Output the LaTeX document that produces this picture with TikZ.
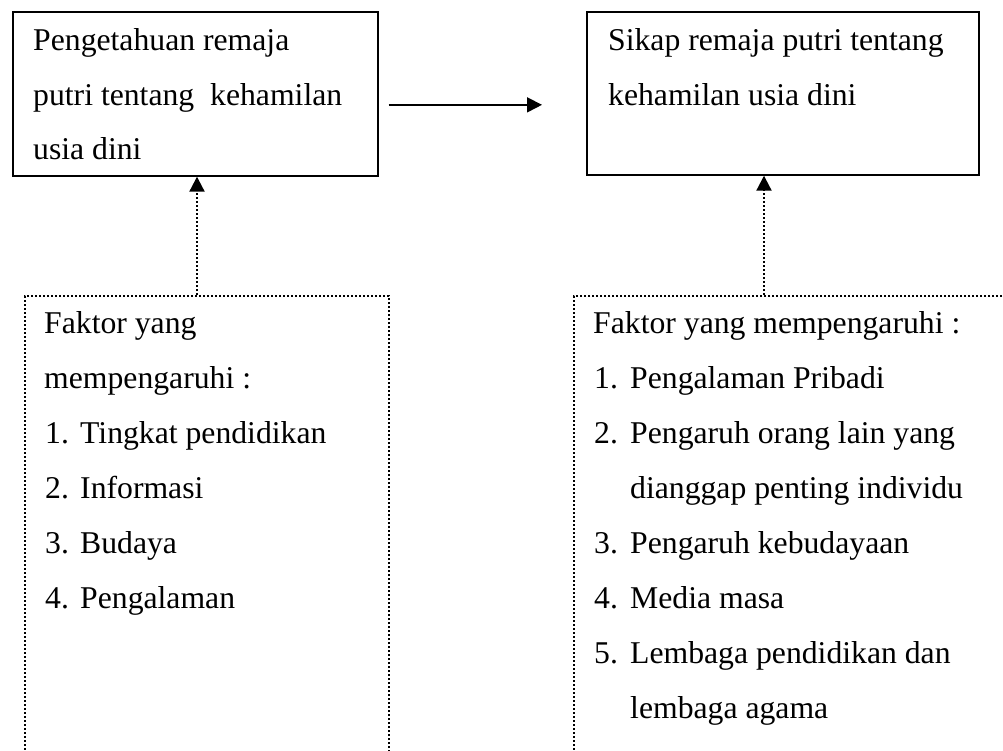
\documentclass[tikz,border=0pt]{standalone}
\usepackage{fontspec}
\setmainfont{Liberation Serif}
\usetikzlibrary{arrows.meta}
\begin{document}
\begin{tikzpicture}[x=1pt,y=-1pt,
  solidbox/.style={draw, line width=1.7pt, rectangle, inner sep=0pt, anchor=north west},
  dotbox/.style={draw, line width=2.1pt, dash pattern=on 2pt off 2pt, rectangle, inner sep=0pt, anchor=north west},
  arr/.style={line width=1.7pt, -{Triangle[length=15pt,width=15pt]}},
  dotarr/.style={line width=2.1pt, dash pattern=on 2pt off 2pt, -{Triangle[length=15pt,width=15pt]}},
  txt/.style={anchor=base west, inner sep=0pt, font=\fontsize{31.7}{55}\selectfont}]
\useasboundingbox (0,0) rectangle (1003,751);
\fill[white] (0,0) rectangle (1003,751);
\clip (0,0) rectangle (1003,751);
% top boxes
\node[solidbox, minimum width=365pt, minimum height=164pt] (k) at (12,11) {};
\node[solidbox, minimum width=392pt, minimum height=163pt] (s) at (586,11) {};
\node[txt] (k1) at (33,51) {Pengetahuan remaja};
\node[txt] (k2) at (33,105.5) {putri tentang\ \ kehamilan};
\node[txt] (k3) at (33,160) {usia dini};
\node[txt] (s1) at (608,51) {Sikap remaja putri tentang};
\node[txt] (s2) at (608,105.5) {kehamilan usia dini};
% bottom dotted boxes
\node[dotbox, minimum width=364pt, minimum height=520pt] (lf) at (24,295) {};
\node[dotbox, minimum width=480pt, minimum height=520pt] (rf) at (573,295) {};
% left list
\node[txt] (l0) at (44,333) {Faktor yang};
\node[txt] (l00) at (44,388) {mempengaruhi :};
\node[txt] (l1n) at (45,443) {1.};
\node[txt] (l1) at (80,443) {Tingkat pendidikan};
\node[txt] (l2n) at (45,498) {2.};
\node[txt] (l2) at (80,498) {Informasi};
\node[txt] (l3n) at (45,553) {3.};
\node[txt] (l3) at (80,553) {Budaya};
\node[txt] (l4n) at (45,608) {4.};
\node[txt] (l4) at (80,608) {Pengalaman};
% right list
\node[txt] (r0) at (593,333) {Faktor yang mempengaruhi :};
\node[txt] (r1n) at (594,388) {1.};
\node[txt] (r1) at (630,388) {Pengalaman Pribadi};
\node[txt] (r2n) at (594,443) {2.};
\node[txt] (r2) at (630,443) {Pengaruh orang lain yang};
\node[txt] (r2b) at (630,498) {dianggap penting individu};
\node[txt] (r3n) at (594,553) {3.};
\node[txt] (r3) at (630,553) {Pengaruh kebudayaan};
\node[txt] (r4n) at (594,608) {4.};
\node[txt] (r4) at (630,608) {Media masa};
\node[txt] (r5n) at (594,663) {5.};
\node[txt] (r5) at (630,663) {Lembaga pendidikan dan};
\node[txt] (r5b) at (630,718) {lembaga agama};
% connectors
\draw[arr] ([xshift=10pt,yshift=-11pt]k.east) -- ([xshift=-44pt,yshift=-11.5pt]s.west);
\coordinate (lt) at (197,295);
\coordinate (rt) at (764,295);
\draw[dotarr] (lt) -- (lt |- k.south);
\draw[dotarr] (rt) -- (rt |- s.south);
\end{tikzpicture}
\end{document}
